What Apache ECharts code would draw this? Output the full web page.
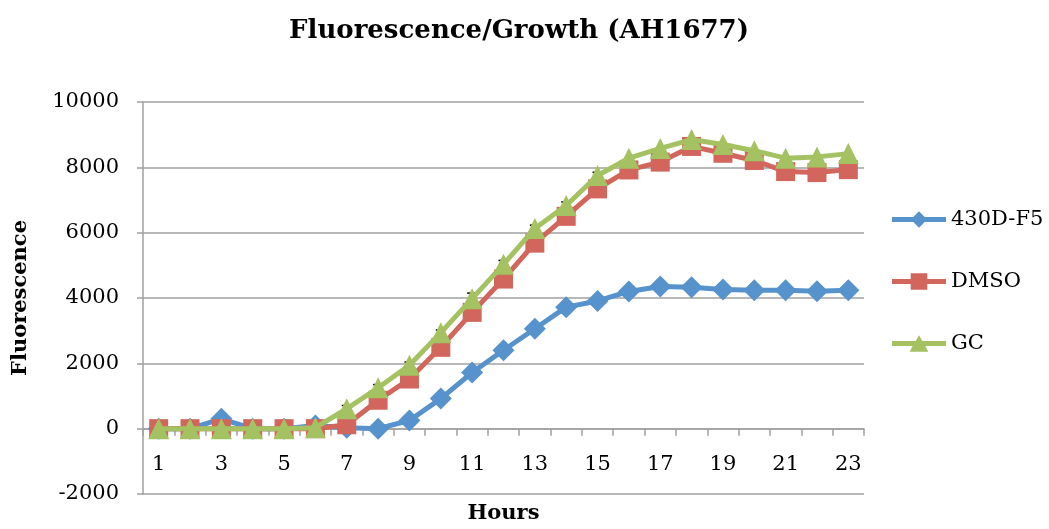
<!DOCTYPE html>
<html>
<head>
<meta charset="utf-8">
<title>Fluorescence/Growth (AH1677)</title>
<script src="https://cdn.jsdelivr.net/npm/echarts@6/dist/echarts.min.js"></script>
<style>
  html, body { margin: 0; padding: 0; background: #ffffff; }
  #chart { width: 1049px; height: 529px; }
</style>
</head>
<body>
<div id="chart"></div>
<script>
// Hours of growth
const hours = ['1','2','3','4','5','6','7','8','9','10','11','12','13','14','15','16','17','18','19','20','21','22','23'];

// Fluorescence readings per strain / treatment
const f430D = [0, 0, 300, 0, 0, 100, 30, 0, 250, 920, 1720, 2400, 3060, 3720, 3910, 4200, 4350, 4330, 4260, 4240, 4240, 4210, 4240];
const dmso  = [0, 0, 0, 0, 0, 0, 120, 870, 1520, 2490, 3560, 4580, 5680, 6500, 7340, 7920, 8160, 8640, 8430, 8210, 7870, 7840, 7930];
const gc    = [0, 0, 0, 0, 0, 30, 610, 1250, 1940, 2940, 3980, 5030, 6130, 6830, 7750, 8280, 8580, 8850, 8700, 8510, 8280, 8320, 8420];

// Error (± fluorescence) for the points that carry error bars
const gcErr   = [0, 0, 0, 0, 0, 0, 100, 100, 100, 80, 170, 120, 100, 110, 100, 0, 0, 0, 0, 0, 0, 0, 0];
const f430Err = [0, 0, 0, 0, 0, 0, 0, 0, 0, 0, 0, 0, 0, 150, 0, 0, 0, 0, 0, 0, 0, 0, 0];

const seriesNames = ['430D-F5', 'DMSO', 'GC'];
const colors = ['#5692CB', '#D2655C', '#A5C263'];

// Legend keys: a thick line with the series marker in the middle
const legendIcons = [
  'path://M2,7.5 L22.5,7.5 L28,2 L33.5,7.5 L54,7.5 L54,12.5 L33.5,12.5 L28,18 L22.5,12.5 L2,12.5 Z',
  'path://M2,7.5 L20,7.5 L20,2 L36,2 L36,7.5 L54,7.5 L54,12.5 L36,12.5 L36,18 L20,18 L20,12.5 L2,12.5 Z',
  'path://M2,7.5 L24.8,7.5 L28,2 L31.2,7.5 L54,7.5 L54,12.5 L34.1,12.5 L37,18 L19,18 L21.9,12.5 L2,12.5 Z'
];

const serif = '"DejaVu Serif", "Liberation Serif", serif';

function errData(values, errs) {
  const out = [];
  values.forEach((v, i) => { if (errs[i] > 0) out.push([i, v, errs[i]]); });
  return out;
}

function renderErr(params, api) {
  const i = api.value(0), v = api.value(1), e = api.value(2);
  const hi = api.coord([i, v + e]);
  const lo = api.coord([i, v - e]);
  const w = 5;
  const style = { stroke: '#000000', lineWidth: 1.5, fill: null };
  return {
    type: 'group',
    children: [
      { type: 'line', shape: { x1: hi[0], y1: hi[1], x2: lo[0], y2: lo[1] }, style },
      { type: 'line', shape: { x1: hi[0] - w, y1: hi[1], x2: hi[0] + w, y2: hi[1] }, style },
      { type: 'line', shape: { x1: lo[0] - w, y1: lo[1], x2: lo[0] + w, y2: lo[1] }, style }
    ]
  };
}

function lineSeries(name, data, symbol, size, color, z) {
  return {
    name, type: 'line', data, symbol, symbolSize: size,
    showAllSymbol: true,
    lineStyle: { width: 5, color },
    itemStyle: { color },
    z
  };
}

const chart = echarts.init(document.getElementById('chart'), null, { renderer: 'canvas' });

chart.setOption({
  animation: false,
  color: colors,
  title: {
    text: 'Fluorescence/Growth (AH1677)',
    left: 514,
    textAlign: 'center',
    top: 13,
    textStyle: { fontFamily: serif, fontWeight: 'bold', fontSize: 26, color: '#000000' }
  },
  legend: {
    orient: 'vertical',
    left: 887,
    top: 204,
    itemWidth: 54,
    itemHeight: 17,
    itemGap: 41,
    data: seriesNames.map((name, i) => ({ name, icon: legendIcons[i] })),
    textStyle: { fontFamily: serif, fontSize: 21, color: '#000000' }
  },
  grid: { left: 143, right: 185, top: 102, bottom: 35, containLabel: false, outerBoundsMode: 'none' },
  xAxis: {
    type: 'category',
    data: hours,
    boundaryGap: true,
    name: 'Hours',
    nameLocation: 'middle',
    nameGap: 9,
    nameTextStyle: { fontFamily: serif, fontWeight: 'bold', fontSize: 21, color: '#000000' },
    axisLine: { onZero: true, lineStyle: { color: '#a0a0a0', width: 1.5 } },
    axisTick: { show: true, alignWithLabel: false, interval: 0, length: 7, lineStyle: { color: '#a0a0a0', width: 1.5 } },
    // tick labels sit just under the zero line
    axisLabel: { interval: 1, margin: -40, fontFamily: serif, fontSize: 21, color: '#000000' },
    splitLine: { show: false }
  },
  yAxis: {
    type: 'value',
    min: -2000,
    max: 10000,
    interval: 2000,
    name: 'Fluorescence',
    nameLocation: 'middle',
    nameRotate: 90,
    nameGap: 112,
    nameTextStyle: { fontFamily: serif, fontWeight: 'bold', fontSize: 21, color: '#000000' },
    axisLine: { show: true, lineStyle: { color: '#a0a0a0', width: 1.5 } },
    axisTick: { show: true, length: 6, lineStyle: { color: '#a0a0a0', width: 1.5 } },
    axisLabel: { margin: 24, fontFamily: serif, fontSize: 21, color: '#000000', formatter: (v) => String(v) },
    splitLine: { show: true, lineStyle: { color: '#a0a0a0', width: 1.5 } }
  },
  series: [
    { type: 'custom', name: 'err430', renderItem: renderErr, data: errData(f430D, f430Err), z: 1, silent: true },
    { type: 'custom', name: 'errGC', renderItem: renderErr, data: errData(gc, gcErr), z: 1, silent: true },
    lineSeries('430D-F5', f430D, 'diamond', 22, colors[0], 2),
    lineSeries('DMSO', dmso, 'rect', 19, colors[1], 3),
    lineSeries('GC', gc, 'triangle', 21, colors[2], 4)
  ]
});
</script>
</body>
</html>
